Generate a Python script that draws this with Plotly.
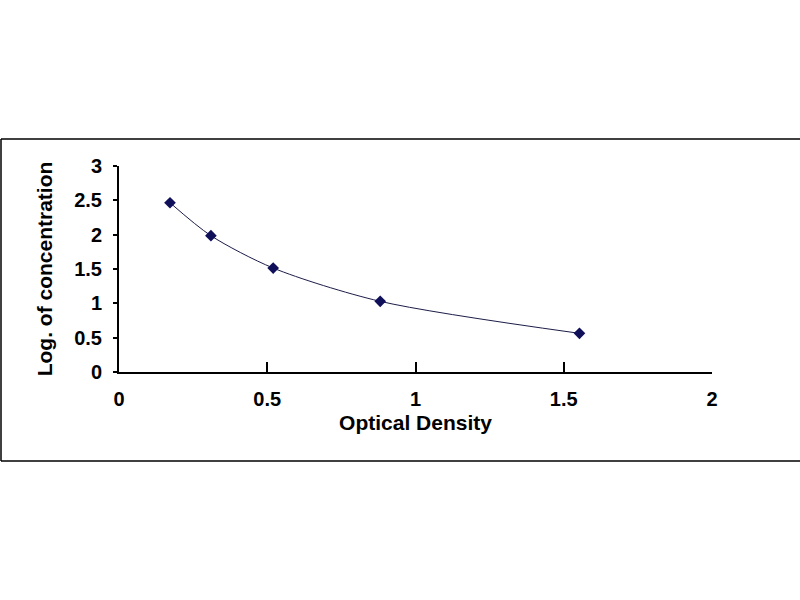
import plotly.graph_objects as go

# standard curve points
optical_density = [0.172, 0.310, 0.520, 0.881, 1.553]
log_concentration = [2.465, 1.985, 1.514, 1.029, 0.563]

x_ticks = [0, 0.5, 1, 1.5, 2]
x_tick_labels = ["0", "0.5", "1", "1.5", "2"]
y_ticks = [0, 0.5, 1, 1.5, 2, 2.5, 3]
y_tick_labels = ["0", "0.5", "1", "1.5", "2", "2.5", "3"]

W, H = 800, 600
L, R, T, B = 119, 88, 166, 228
pw, ph = W - L - R, H - T - B

font_family = "Liberation Sans, Arial, sans-serif"
tick_font = dict(family=font_family, size=20, color="black", weight="bold")
title_font = dict(family=font_family, size=21, color="black", weight="bold")

fig = go.Figure()
fig.add_trace(
    go.Scatter(
        x=optical_density,
        y=log_concentration,
        mode="lines+markers",
        line=dict(color="#1c1c48", width=1, shape="spline", smoothing=0.8),
        marker=dict(symbol="diamond", size=9, color="#10105a"),
        showlegend=False,
        hoverinfo="x+y",
    )
)

fig.update_xaxes(
    range=[0, 2],
    tickvals=x_ticks,
    ticktext=x_tick_labels,
    ticks="inside",
    ticklen=10,
    tickwidth=2,
    tickcolor="black",
    showline=True,
    linecolor="black",
    linewidth=2,
    showgrid=False,
    zeroline=False,
    tickfont=tick_font,
    ticklabelstandoff=8,
    title=dict(text="Optical Density", font=title_font, standoff=6),
)
fig.update_yaxes(
    range=[0, 3],
    tickvals=y_ticks,
    ticktext=y_tick_labels,
    ticks="outside",
    ticklen=4,
    tickwidth=2,
    tickcolor="black",
    showline=True,
    linecolor="black",
    linewidth=2,
    showgrid=False,
    zeroline=False,
    tickfont=tick_font,
    ticklabelstandoff=7,
    title=dict(text="Log. of concentration", font=title_font, standoff=16),
)

# outer frame around the chart (open at the right edge)
frame = dict(type="line", xref="paper", yref="paper", line=dict(color="black", width=1.5))
x_left, x_right = (1 - L) / pw, (W + 5 - L) / pw
y_top, y_bot = (H - B - 139) / ph, (H - B - 461) / ph
fig.add_shape(x0=x_left, x1=x_right, y0=y_top, y1=y_top, **frame)
fig.add_shape(x0=x_left, x1=x_right, y0=y_bot, y1=y_bot, **frame)
fig.add_shape(x0=x_left, x1=x_left, y0=y_bot, y1=y_top, **frame)

fig.update_layout(
    width=W,
    height=H,
    margin=dict(l=L, r=R, t=T, b=B),
    paper_bgcolor="white",
    plot_bgcolor="white",
)

# drop the default page margin so the figure sits at the window corner
fig.write_html(
    "out.html",
    config={"displayModeBar": False},
    post_script="document.body.style.margin='0';",
)
